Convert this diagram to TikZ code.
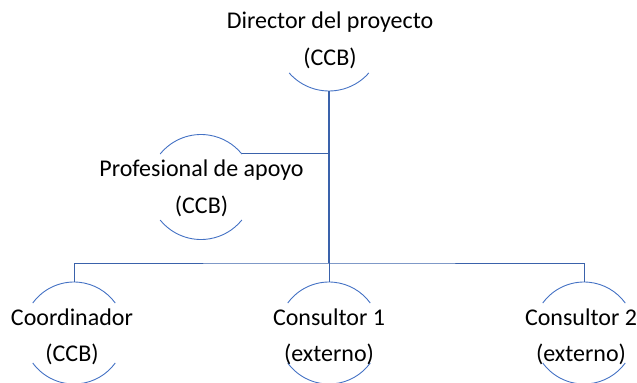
\documentclass[tikz,border=0pt]{standalone}
\usepackage{fontspec}
\setmainfont{Carlito}
\usetikzlibrary{calc}
\definecolor{arcblue}{HTML}{4472C4}
\definecolor{lineblue}{HTML}{3A62AB}
\newcommand\nodearcs[3]{%
  \draw[arcline] (#1) ++(180+#3:#2) arc[start angle=180+#3, end angle=360-#3, radius=#2];
  \draw[arcline] (#1) ++(180-#3:#2) arc[start angle=180-#3, end angle=#3, radius=#2];}
\begin{document}
\begin{tikzpicture}[x=1bp,y=-1bp,
  arcline/.style={draw=arcblue, line width=0.9bp},
  conn/.style={draw=lineblue, line width=1bp},
  trunk/.style={draw=lineblue, line width=1.8bp},
  role/.style={align=center, inner sep=0pt, anchor=base,
     font=\fontsize{24bp}{36.5bp}\selectfont}]
\useasboundingbox (0,0) rectangle (637,382);
% circle centres
\coordinate (dirC) at (329,38);
\coordinate (profC) at (201,187);
\coordinate (coordC) at (74,333);
\coordinate (conaC) at (329,333);
\coordinate (conbC) at (584,333);
% arcs
\draw[arcline] (dirC) ++(180-41.3:53) arc[start angle=180-41.3, end angle=41.3, radius=53];
\nodearcs{profC}{52.5}{39}
\nodearcs{coordC}{51}{36}
\nodearcs{conaC}{51}{36}
\nodearcs{conbC}{51}{36}
% texts (anchor = baseline of the last line)
\node[role] (dir) at (330,65.3) {Director del proyecto\\(CCB)};
\node[role] (prof) at (201.5,213.3) {Profesional de apoyo\\(CCB)};
\node[role] (coord) at (72,361.7) {Coordinador\\(CCB)};
\node[role] (cona) at (329,361.7) {Consultor 1\\(externo)};
\node[role] (conb) at (581,361.7) {Consultor 2\\(externo)};
% connector anchors
\coordinate (dirB) at ($(dirC)+(0,53)$);
\coordinate (profT) at ($(profC)+(-39:52.5)$);
\coordinate (coordT) at ($(coordC)+(0,-51)$);
\coordinate (conaT) at ($(conaC)+(0,-51)$);
\coordinate (conbT) at ($(conbC)+(0,-51)$);
\coordinate (bus) at (329,263);
% connectors
\draw[trunk] (dirB) -- (bus);
\draw[conn] (profT) -- (profT -| dirB);
\draw[conn] (coordT) |- (bus) -| (conbT);
\draw[conn] (bus) -- (conaT);
\end{tikzpicture}
\end{document}
